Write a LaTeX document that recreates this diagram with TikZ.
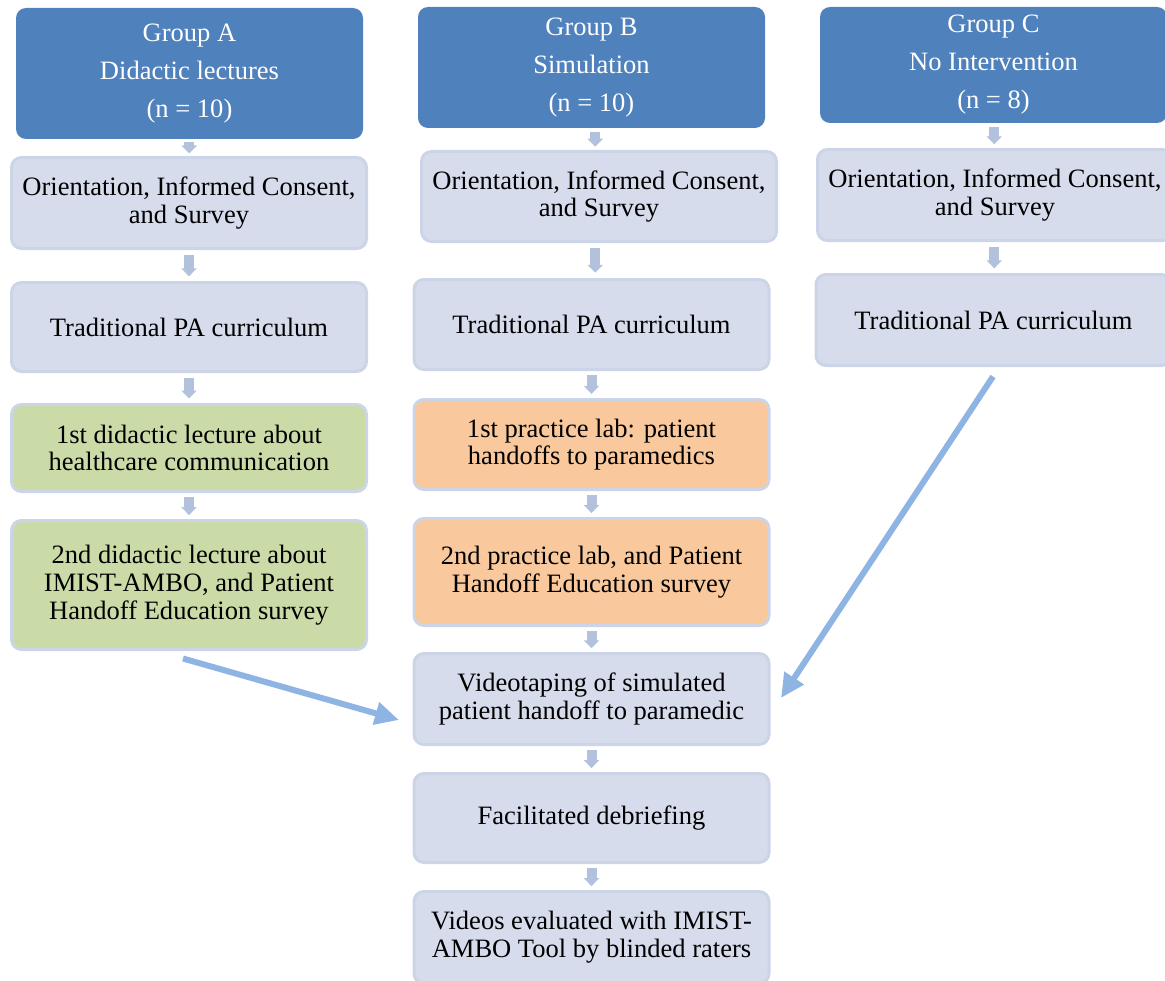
\documentclass[tikz,border=0pt]{standalone}
\usepackage{fontspec}
\setmainfont{Liberation Serif}
\usetikzlibrary{arrows.meta,calc}

\definecolor{azulgrupo}{HTML}{4F81BD}
\definecolor{fondocaja}{HTML}{D6DCEC}
\definecolor{bordecaja}{HTML}{CCD5E8}
\definecolor{fondoverde}{HTML}{CBDBA7}
\definecolor{fondonaranja}{HTML}{F9C89C}
\definecolor{flechaclara}{HTML}{B2C2DD}
\definecolor{flechaazul}{HTML}{8DB4E2}

\begin{document}
\begin{tikzpicture}[x=0.75pt,y=-0.75pt,
  encabezado/.style={fill=azulgrupo,text=white,rounded corners=7.5pt,align=center,
    inner sep=0pt,minimum width=260.25pt,font=\fontsize{19.9}{28.5}\selectfont},
  caja/.style={draw=bordecaja,line width=2.25pt,fill=fondocaja,rounded corners=7.5pt,
    align=center,inner sep=0pt,minimum width=266.25pt,font=\fontsize{19.9}{20.8}\selectfont},
  verde/.style={caja,fill=fondoverde},
  naranja/.style={caja,fill=fondonaranja},
  alto/.style={minimum height=#1*0.75pt},
  flechita/.style={draw=flechaclara,line width=7.5pt,-{Triangle[width=11.25pt,length=6pt]}},
  flechagrande/.style={draw=flechaazul,line width=4.5pt,-{Triangle[width=16.5pt,length=18pt]}}]
\useasboundingbox (0,0) rectangle (1165,981);

%Grupo A: clases didacticas
\node[encabezado,alto=131] (gA) at (189.5,73.5) {Group A\\Didactic lectures\\(n = 10)};
\node[caja,alto=91] (a1) at (189,203) {Orientation, Informed Consent,\\and Survey};
\node[caja,alto=89] (a2) at (189,327) {Traditional PA curriculum};
\node[verde,alto=87] (a3) at (189,448) {1st didactic lecture about\\healthcare communication};
\node[verde,alto=129] (a4) at (189,585) {2nd didactic lecture about\\IMIST-AMBO, and Patient\\Handoff Education survey};

%Grupo B: simulacion
\node[encabezado,alto=121] (gB) at (591.5,67.5) {Group B\\Simulation\\(n = 10)};
\node[caja,alto=90] (b1) at (599,196.5) {Orientation, Informed Consent,\\and Survey};
\node[caja,alto=90] (b2) at (591.5,324.5) {Traditional PA curriculum};
\node[naranja,alto=90] (b3) at (591.5,444.5) {1st practice lab: patient\\handoffs to paramedics};
\node[naranja,alto=107] (b4) at (591.5,572) {2nd practice lab, and Patient\\Handoff Education survey};
\node[caja,alto=91] (b5) at (591.5,699) {Videotaping of simulated\\patient handoff to paramedic};
\node[caja,alto=89] (b6) at (591.5,818) {Facilitated debriefing};
\node[caja,alto=92] (b7) at (591.5,937.5) {Videos evaluated with IMIST-\\AMBO Tool by blinded raters};

%Grupo C: sin intervencion
\node[encabezado,alto=116] (gC) at (993.5,65) {Group C\\No Intervention\\(n = 8)};
\node[caja,alto=91] (c1) at (995,195) {Orientation, Informed Consent,\\and Survey};
\node[caja,alto=91] (c2) at (993.5,320) {Traditional PA curriculum};

%Flechas cortas entre pasos
\foreach \a/\b in {gA/a1,a1/a2,a2/a3,a3/a4,gB/b1,b1/b2,b2/b3,b3/b4,b4/b5,b5/b6,b6/b7,gC/c1,c1/c2}{
  \path ($(\a.south)!.15!(\b.north)$) coordinate (ini)
        ($(\a.south)!.85!(\b.north)$) coordinate (fin)
        ($(ini)!.5!(fin)$) coordinate (med);
  \draw[flechita] (med |- ini) -- (med |- fin);
}

%Flechas grandes hacia el videotaping
\coordinate (inicioA) at ($(a4.south)+(-6,7.5)$);
\coordinate (puntaA) at ($(b5.west)+(-13.5,21)$);
\coordinate (inicioC) at ($(c2.south)+(-0.5,9.5)$);
\coordinate (puntaC) at ($(b5.east)+(10.5,-1)$);
\draw[flechagrande] (inicioA) -- (puntaA);
\draw[flechagrande] (inicioC) -- (puntaC);
\end{tikzpicture}
\end{document}
